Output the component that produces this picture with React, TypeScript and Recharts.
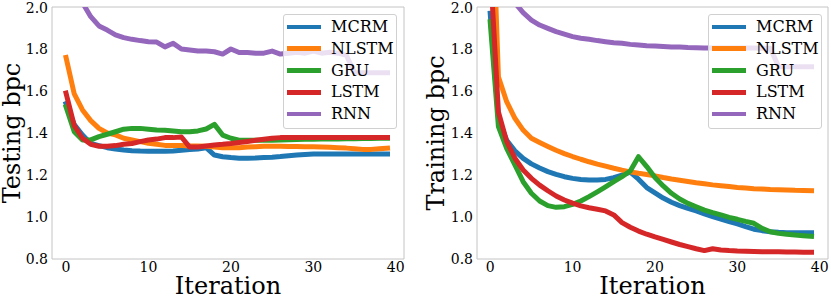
import { LineChart, Line, XAxis, YAxis, ReferenceArea, Legend, Label } from "recharts";

const SERIES = ["MCRM", "NLSTM", "GRU", "LSTM", "RNN"];
const COLORS = ["#1f77b4", "#ff7f0e", "#2ca02c", "#d62728", "#9467bd"];
const X_TICKS = [0, 10, 20, 30, 40];
const Y_TICKS = [0.8, 1.0, 1.2, 1.4, 1.6, 1.8, 2.0];

// testing bpc per iteration
const testMCRM = [1.54, 1.44, 1.39, 1.35, 1.34, 1.33, 1.324, 1.319, 1.316, 1.314, 1.313, 1.313, 1.313, 1.314, 1.318, 1.321, 1.324, 1.33, 1.295, 1.287, 1.283, 1.28, 1.28, 1.281, 1.283, 1.285, 1.288, 1.292, 1.295, 1.298, 1.3, 1.3, 1.3, 1.3, 1.3, 1.3, 1.3, 1.3, 1.3, 1.3];
const testNLSTM = [1.76, 1.586, 1.51, 1.459, 1.422, 1.4, 1.391, 1.375, 1.367, 1.359, 1.351, 1.346, 1.341, 1.34, 1.34, 1.338, 1.338, 1.337, 1.333, 1.33, 1.33, 1.33, 1.333, 1.335, 1.337, 1.337, 1.337, 1.336, 1.336, 1.335, 1.334, 1.333, 1.332, 1.33, 1.328, 1.325, 1.322, 1.322, 1.325, 1.328];
const testGRU = [1.525, 1.406, 1.367, 1.367, 1.383, 1.394, 1.406, 1.418, 1.422, 1.422, 1.418, 1.414, 1.413, 1.41, 1.406, 1.406, 1.41, 1.419, 1.441, 1.39, 1.375, 1.366, 1.365, 1.365, 1.365, 1.366, 1.367, 1.368, 1.369, 1.37, 1.37, 1.371, 1.372, 1.372, 1.373, 1.373, 1.374, 1.374, 1.375, 1.375];
const testLSTM = [1.59, 1.435, 1.375, 1.346, 1.337, 1.337, 1.34, 1.346, 1.35, 1.359, 1.367, 1.371, 1.378, 1.378, 1.381, 1.333, 1.333, 1.338, 1.343, 1.346, 1.35, 1.355, 1.36, 1.365, 1.37, 1.375, 1.378, 1.378, 1.378, 1.378, 1.378, 1.378, 1.378, 1.378, 1.378, 1.378, 1.378, 1.378, 1.378, 1.378];
const testRNN = [2.25, 2.1, 2.02, 1.954, 1.91, 1.89, 1.867, 1.854, 1.846, 1.84, 1.835, 1.833, 1.81, 1.827, 1.8, 1.795, 1.79, 1.79, 1.787, 1.776, 1.8, 1.783, 1.783, 1.78, 1.78, 1.79, 1.776, 1.78, 1.785, 1.78, 1.79, 1.78, 1.785, 1.78, 1.77, 1.687, 1.687, 1.687, 1.687, 1.687];

// training bpc per iteration
const trainMCRM = [1.97, 1.47, 1.365, 1.315, 1.279, 1.253, 1.233, 1.216, 1.203, 1.192, 1.184, 1.179, 1.176, 1.176, 1.179, 1.187, 1.2, 1.214, 1.18, 1.14, 1.115, 1.09, 1.07, 1.054, 1.041, 1.029, 1.015, 1.002, 0.99, 0.978, 0.967, 0.954, 0.942, 0.935, 0.93, 0.927, 0.925, 0.925, 0.925, 0.925];
const trainNLSTM = [2.78, 1.668, 1.549, 1.47, 1.414, 1.375, 1.355, 1.336, 1.318, 1.302, 1.288, 1.275, 1.263, 1.252, 1.242, 1.232, 1.223, 1.215, 1.208, 1.202, 1.196, 1.188, 1.181, 1.175, 1.169, 1.163, 1.158, 1.153, 1.149, 1.145, 1.141, 1.138, 1.135, 1.133, 1.131, 1.13, 1.129, 1.127, 1.126, 1.125];
const trainGRU = [1.93, 1.43, 1.327, 1.248, 1.168, 1.113, 1.076, 1.054, 1.046, 1.049, 1.06, 1.076, 1.097, 1.12, 1.144, 1.168, 1.192, 1.219, 1.287, 1.24, 1.188, 1.148, 1.113, 1.086, 1.065, 1.049, 1.033, 1.021, 1.01, 0.998, 0.989, 0.979, 0.97, 0.946, 0.93, 0.922, 0.918, 0.914, 0.911, 0.908];
const trainLSTM = [2.2, 1.5, 1.36, 1.28, 1.224, 1.184, 1.152, 1.125, 1.1, 1.081, 1.066, 1.053, 1.044, 1.037, 1.029, 1.01, 0.973, 0.951, 0.933, 0.918, 0.905, 0.893, 0.881, 0.869, 0.859, 0.849, 0.84, 0.849, 0.843, 0.84, 0.838, 0.837, 0.836, 0.835, 0.835, 0.834, 0.833, 0.833, 0.832, 0.832];
const trainRNN = [2.6, 2.25, 2.1, 2.02, 1.973, 1.938, 1.914, 1.898, 1.883, 1.871, 1.859, 1.851, 1.846, 1.84, 1.835, 1.83, 1.827, 1.822, 1.819, 1.816, 1.814, 1.812, 1.81, 1.809, 1.807, 1.806, 1.805, 1.805, 1.805, 1.805, 1.805, 1.805, 1.805, 1.804, 1.803, 1.716, 1.716, 1.716, 1.716, 1.716];

const FONT = "'DejaVu Serif', serif";

function buildRows(cols: number[][]) {
  return cols[0].map((_, i) => {
    const row: Record<string, number> = { iter: i };
    SERIES.forEach((name, k) => {
      row[name] = cols[k][i];
    });
    return row;
  });
}

const testData = buildRows([testMCRM, testNLSTM, testGRU, testLSTM, testRNN]);
const trainData = buildRows([trainMCRM, trainNLSTM, trainGRU, trainLSTM, trainRNN]);

function LegendBox() {
  return (
    <div
      style={{
        boxSizing: "border-box",
        width: "100%",
        height: "100%",
        border: "1px solid #d0d0d0",
        borderRadius: 3,
        background: "rgba(255,255,255,0.8)",
        paddingTop: 1,
        fontFamily: FONT,
        fontSize: 16,
        color: "#000",
      }}
    >
      {SERIES.map((name, k) => (
        <div key={name} style={{ display: "flex", alignItems: "center", height: 21.8 }}>
          <span
            style={{ display: "inline-block", marginLeft: 3, width: 34, height: 4.5, background: COLORS[k] }}
          />
          <span style={{ marginLeft: 10, lineHeight: "21.8px" }}>{name}</span>
        </div>
      ))}
    </div>
  );
}

function Panel({
  data,
  title,
  width,
  axisWidth,
  rightMargin,
  titleX,
  xMin,
  legendLeft,
}: {
  data: Record<string, number>[];
  title: string;
  width: number;
  axisWidth: number;
  rightMargin: number;
  titleX: number;
  xMin: number;
  legendLeft: number;
}) {
  return (
    <LineChart width={width} height={301} data={data} margin={{ top: 7, right: rightMargin, bottom: 0, left: 0 }}>
      <ReferenceArea x1={xMin} x2={41} y1={0.8} y2={2.0} fill="none" stroke="#c4c4c4" strokeWidth={1} />
      <XAxis
        type="number"
        dataKey="iter"
        domain={[xMin, 41]}
        ticks={X_TICKS}
        allowDataOverflow
        axisLine={false}
        tickLine={false}
        tickSize={0}
        tickMargin={3}
        height={42}
        tick={{ fill: "#000", fontSize: 14, fontFamily: FONT }}
      >
        <Label
          content={({ viewBox }: any) => (
            <text
              x={viewBox.x + viewBox.width / 2}
              y={viewBox.y + 35}
              textAnchor="middle"
              fontSize={24}
              fontFamily={FONT}
              fill="#000"
            >
              Iteration
            </text>
          )}
        />
      </XAxis>
      <YAxis
        type="number"
        domain={[0.8, 2.0]}
        ticks={Y_TICKS}
        allowDataOverflow
        width={axisWidth}
        axisLine={false}
        tickLine={false}
        tickSize={0}
        tickMargin={4}
        tickFormatter={(v: number) => v.toFixed(1)}
        tick={{ fill: "#000", fontSize: 14, fontFamily: FONT }}
      >
        <Label
          content={({ viewBox }: any) => {
            const cy = viewBox.y + viewBox.height / 2;
            return (
              <text
                x={titleX}
                y={cy}
                transform={`rotate(-90, ${titleX}, ${cy})`}
                textAnchor="middle"
                fontSize={24}
                fontFamily={FONT}
                fill="#000"
              >
                {title}
              </text>
            );
          }}
        />
      </YAxis>
      {SERIES.map((name, k) => (
        <Line
          key={name}
          type="linear"
          dataKey={name}
          stroke={COLORS[k]}
          strokeWidth={5}
          strokeLinecap="square"
          strokeLinejoin="round"
          dot={false}
          activeDot={false}
          isAnimationActive={false}
        />
      ))}
      <Legend
        layout="horizontal"
        verticalAlign="middle"
        align="center"
        wrapperStyle={{ left: legendLeft, top: 14, width: 114, height: 115 }}
        content={() => <LegendBox />}
      />
    </LineChart>
  );
}

export default function App() {
  return (
    <div style={{ position: "absolute", left: 0, top: 0, width: 831, height: 301, background: "#fff" }}>
      <div style={{ position: "absolute", left: 0, top: 0 }}>
        <Panel
          data={testData}
          title="Testing bpc"
          width={415}
          axisWidth={52}
          rightMargin={11}
          titleX={20}
          xMin={-1.7}
          legendLeft={283}
        />
      </div>
      <div style={{ position: "absolute", left: 415, top: 0 }}>
        <Panel
          data={trainData}
          title="Training bpc"
          width={416}
          axisWidth={62}
          rightMargin={3}
          titleX={28.5}
          xMin={-1.6}
          legendLeft={293}
        />
      </div>
    </div>
  );
}
